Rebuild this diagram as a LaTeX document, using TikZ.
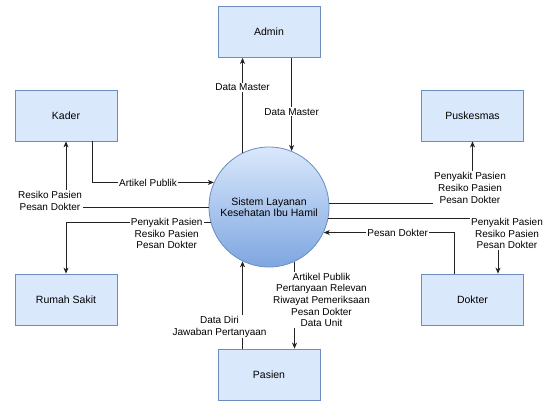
\documentclass[tikz,border=0pt]{standalone}
\usepackage{fontspec}
\setmainfont{Liberation Sans}
\usetikzlibrary{arrows.meta}
\definecolor{boxfill}{HTML}{DAE8FC}
\definecolor{boxline}{HTML}{6C8EBF}
\definecolor{gradend}{HTML}{7EA6E0}
\definecolor{edgecol}{HTML}{222222}
\begin{document}
\begin{tikzpicture}[x=1pt,y=-1pt,
  entity/.style={draw=boxline, fill=boxfill, line width=0.8pt, minimum width=102pt, minimum height=51pt, inner sep=0pt, font=\fontsize{10.5}{12}\selectfont},
  proc/.style={circle, draw=boxline, line width=0.8pt, top color=boxfill, bottom color=gradend, minimum size=120pt, inner sep=0pt, align=center, font=\fontsize{10.5}{11.5}\selectfont},
  flow/.style={draw=edgecol, line width=0.8pt, -{Stealth[length=6pt,width=5pt,inset=1.8pt]}},
  lbl/.style={fill=white, inner sep=1pt, align=center, text=black, font=\fontsize{10}{11.7}\selectfont}]
\useasboundingbox (0,0) rectangle (549,401);
\fill[white] (0,0) rectangle (549,401);

\node[proc] (sys) at (269,207) {Sistem Layanan\\Kesehatan Ibu Hamil};
\node[entity] (admin) at (269,32) {Admin};
\node[entity] (kader) at (66,115.5) {Kader};
\node[entity] (pusk) at (472.5,115.5) {Puskesmas};
\node[entity] (rs) at (66,299.5) {Rumah Sakit};
\node[entity] (dokter) at (472.5,299.5) {Dokter};
\node[entity] (pasien) at (269,374.5) {Pasien};

% Admin
\draw[flow] (sys.116.6) -- node[lbl, pos=0.69] {Data Master} (sys.116.6 |- admin.south);
\draw[flow] (admin.south -| sys.68.5) -- node[lbl, pos=0.58] {Data Master} (sys.68.5);

% Kader
\draw[flow] ([xshift=26pt]kader.south) |- node[lbl, pos=0.73] {Artikel Publik} (sys.156.4);
\draw[flow] (sys.west) -| node[lbl, pos=0.5, xshift=-16pt, yshift=6pt] {Resiko Pasien\\Pesan Dokter} (kader.south);

% Puskesmas
\draw[flow] (sys.3.8) -| node[lbl, pos=0.5, xshift=-2.5pt, yshift=16pt] {Penyakit Pasien\\Resiko Pasien\\Pesan Dokter} (pusk.south);

% Rumah Sakit
\draw[flow] (sys.195.5) -| node[lbl, pos=0.152, yshift=-11pt] {Penyakit Pasien\\Resiko Pasien\\Pesan Dokter} (rs.north);

% Dokter
\draw[flow] (sys.-11.5) -| node[lbl, pos=0.5, xshift=9pt, yshift=-15pt] {Penyakit Pasien\\Resiko Pasien\\Pesan Dokter} ([xshift=25.5pt]dokter.north);
\draw[flow] ([xshift=-18.5pt]dokter.north) |- node[lbl, pos=0.716] {Pesan Dokter} (sys.-25.7);

% Pasien
\draw[flow] (pasien.north -| sys.244.3) -- node[lbl, pos=0.25, xshift=-23pt] {Data Diri\\Jawaban Pertanyaan} (sys.244.3);
\draw[flow] (sys.-65.4) -- node[lbl, pos=0.44, xshift=27pt] {Artikel Publik\\Pertanyaan Relevan\\Riwayat Pemeriksaan\\Pesan Dokter\\Data Unit} (sys.-65.4 |- pasien.north);
\end{tikzpicture}
\end{document}
